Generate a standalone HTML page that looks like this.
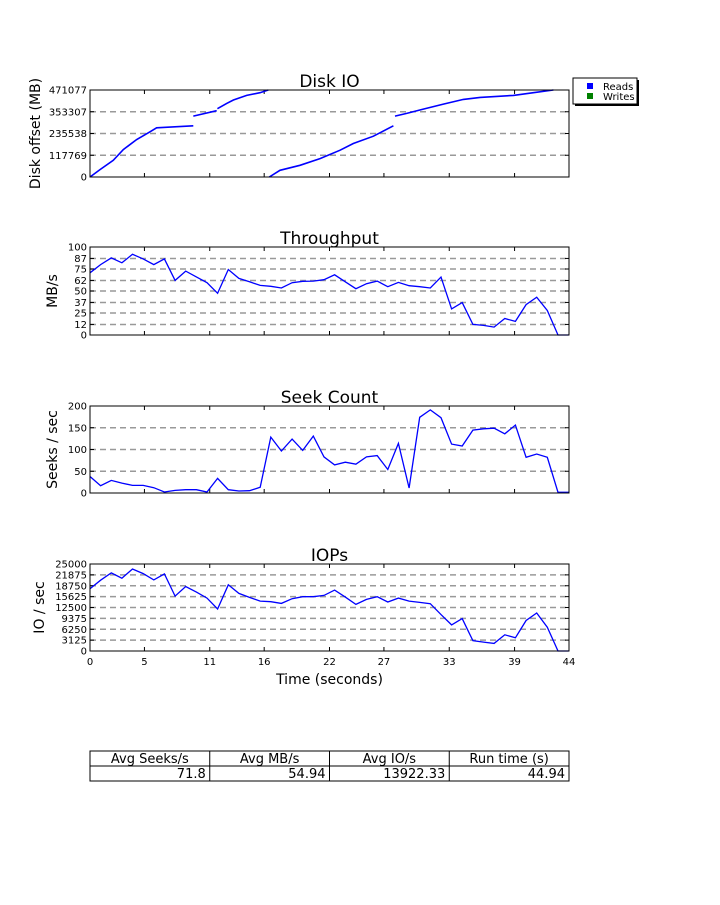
<!DOCTYPE html>
<html><head><meta charset="utf-8"><style>
body{margin:0;background:#fff;}
svg text{font-family:"DejaVu Sans","Liberation Sans",sans-serif;}
</style></head><body>
<svg id="s" width="720" height="900" xmlns="http://www.w3.org/2000/svg"></svg>
<script>
const N = 46;
const STEP = 44.94 / 46;
const throughput = [70.7,80,87.6,82,91.7,86.5,80,86.5,62,72.6,66,59.4,47.4,74.4,64.3,60.5,56.4,55.3,53.4,59.4,61,61.3,62.8,68.4,60.5,52.6,58.3,61.3,54.9,59.8,56,54.9,53.4,65.8,29.7,36.8,12,10.9,9,18.8,15.4,34.6,42.9,27.8,0,0];
const seeks = [38,16.7,29,22.8,17.5,17.5,12.2,2.3,6,7.6,7.6,2.3,33.5,7.6,4.6,5.3,13,128.5,96.6,124,98,130.8,82.9,64.6,70.7,66.2,82.9,86,54,114,11.4,174,191,173,112.5,108,144.5,147.5,149,136,156,82,89.7,82,1.5,1.5];
const iops = [17870,20340,22430,20910,23570,22240,20440,22150,15780,18540,16920,15210,12070,19010,16540,15400,14350,14160,13690,15020,15590,15590,15970,17490,15490,13400,14830,15590,14070,15210,14350,13970,13590,10460,7510,9320,2950,2570,2190,4660,3800,8750,10930,6840,0,0];
const diskSegTimes = [[0,0.92,2.14,3.06,4.29,5.51,6.12,9.49],[9.49,11.64],[11.7,12.56,13.17,14.39,15.62,16.38],[16.47,17.45,19.29,21.13,22.97,24.19,26.03,27.87],[28.02,29.09,30.62,32.46,34.30,35.83,38.89,40.73,42.57]];
const diskSegOffsets = [[0,39860,90590,148570,202930,244600,266340,277210],[329750,358740],[370000,398600,416720,442080,456580,471077],[0,36230,63400,99640,144940,181170,221030,277210],[329750,344240,367800,394970,420340,431210,442080,456580,471077]];
const xTicks = [0,5,11,16,22,27,33,39,44];
const diskTicks = [0,117769,235538,353307,471077];
const tpTicks = [0,12,25,37,50,62,75,87,100];
const seekTicks = [0,50,100,150,200];
const iopsTicks = [0,3125,6250,9375,12500,15625,18750,21875,25000];
const tableHeaders = ["Avg Seeks/s","Avg MB/s","Avg IO/s","Run time (s)"];
const tableValues = ["71.8","54.94","13922.33","44.94"];

const NS="http://www.w3.org/2000/svg";
const svg=document.getElementById('s');
function mk(tag,attrs,parent){const e=document.createElementNS(NS,tag);for(const k in attrs)e.setAttribute(k,attrs[k]);(parent||svg).appendChild(e);return e;}
const X0=90,X1=569;
function xs(t){return X0+(t/44)*(X1-X0);}

function panel(key,title,ylabel,top,bot,max,ticks,gridTicks,labelX){
  const g=mk('g',{});
  
  
  const ys=v=>bot-(v/max)*(bot-top);
  gridTicks.forEach(v=>{ if(v===0||v===max) return;
    const l=mk('line',{x1:X0,x2:X1,y1:ys(v),y2:ys(v),stroke:'#999','stroke-width':1.5,'stroke-dasharray':'6,4'},g);
    
    
  });
  ticks.forEach(v=>{
    const t=mk('text',{x:X0-3,y:ys(v)+3.5,'text-anchor':'end','font-size':10},g);
    t.textContent=v;
    
    
    mk('line',{x1:X0,x2:X0+4,y1:ys(v),y2:ys(v),stroke:'#000'},g);
    mk('line',{x1:X1,x2:X1-4,y1:ys(v),y2:ys(v),stroke:'#000'},g);
  });
  xTicks.forEach(v=>{
    mk('line',{x1:xs(v),x2:xs(v),y1:bot,y2:bot-4,stroke:'#000'},g);
    mk('line',{x1:xs(v),x2:xs(v),y1:top,y2:top+4,stroke:'#000'},g);
  });
  const tt=mk('text',{x:(X0+X1)/2,y:top-3,'text-anchor':'middle','font-size':17},g);
  tt.textContent=title;
  
  
  const yl=mk('text',{x:0,y:0,'text-anchor':'middle','font-size':14,transform:`translate(${labelX},${(top+bot)/2}) rotate(-90)`},g);
  yl.textContent=ylabel;
  
  
  return {g,ys,frame:()=>{const r=mk('rect',{x:X0,y:top,width:X1-X0,height:bot-top,fill:'none',stroke:'#000','stroke-width':1},g);}};
}
function line(p,vals,key){
  const pts=vals.map((v,i)=>xs(i*STEP).toFixed(1)+','+p.ys(v).toFixed(1)).join(' ');
  const l=mk('polyline',{points:pts,fill:'none',stroke:'#0000ff','stroke-width':1.3},p.g);
  
  
}
const d=panel('disk','Disk IO','Disk offset (MB)',90,177,471077,diskTicks,diskTicks,40);
diskSegTimes.forEach((ts,si)=>{
  const pts=ts.map((t,i)=>xs(t).toFixed(1)+','+d.ys(diskSegOffsets[si][i]).toFixed(1)).join(' ');
  const l=mk('polyline',{points:pts,fill:'none',stroke:'#0000ff','stroke-width':1.6},d.g);
  
  
});
d.frame();
const tp=panel('throughput','Throughput','MB/s',247,335,100,tpTicks,tpTicks,57);
line(tp,throughput,'throughput');tp.frame();
const sk=panel('seek','Seek Count','Seeks / sec',406,493,200,seekTicks,seekTicks,57);
line(sk,seeks,'seek');sk.frame();
const io=panel('iops','IOPs','IO / sec',564,651,25000,iopsTicks,iopsTicks,44);
line(io,iops,'iops');io.frame();
xTicks.forEach(v=>{
  const t=mk('text',{x:xs(v),y:665,'text-anchor':'middle','font-size':10});
  t.textContent=v;
  
  
});
const xt=mk('text',{x:(X0+X1)/2,y:684,'text-anchor':'middle','font-size':14});
xt.textContent='Time (seconds)';


const lg=mk('g',{});


mk('rect',{x:575,y:80,width:64,height:26,fill:'#000'},lg);
mk('rect',{x:573,y:78,width:64,height:26,fill:'#fff',stroke:'#000'},lg);
mk('rect',{x:587,y:83,width:6,height:6,fill:'#0000ff'},lg);
mk('rect',{x:587,y:93,width:6,height:6,fill:'#008000'},lg);
const r1=mk('text',{x:603,y:90,'font-size':10},lg);r1.textContent='Reads';


const r2=mk('text',{x:603,y:100,'font-size':10},lg);r2.textContent='Writes';


const tb=mk('g',{});


const cw=(X1-X0)/4;
mk('rect',{x:X0,y:751,width:X1-X0,height:30,fill:'none',stroke:'#000'},tb);
mk('line',{x1:X0,x2:X1,y1:766,y2:766,stroke:'#000'},tb);
tableHeaders.forEach((h,i)=>{
  if(i>0) mk('line',{x1:X0+cw*i,x2:X0+cw*i,y1:751,y2:781,stroke:'#000'},tb);
  const t=mk('text',{x:X0+cw*i+cw/2,y:763,'text-anchor':'middle','font-size':13},tb);
  t.textContent=h;
  
  
  const v=mk('text',{x:X0+cw*(i+1)-4,y:778,'text-anchor':'end','font-size':13},tb);
  v.textContent=tableValues[i];
  
  
});
</script>
</body></html>
